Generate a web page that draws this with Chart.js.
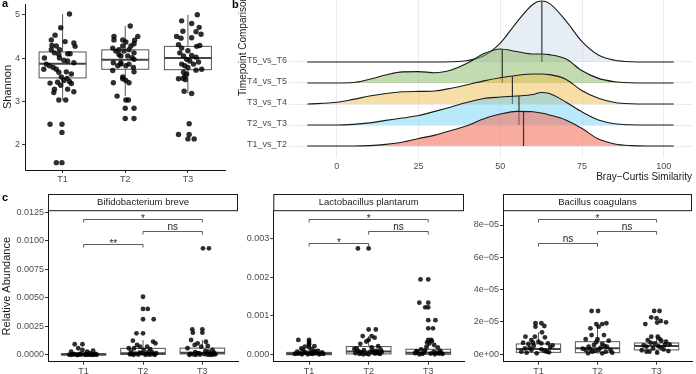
<!DOCTYPE html>
<html>
<head>
<meta charset="utf-8">
<script src="https://cdn.jsdelivr.net/npm/chart.js@4.4.0/dist/chart.umd.min.js"></script>
<style>
  body { margin: 0; width: 696px; height: 374px; overflow: hidden; background: #fff; position: relative;
         font-family: 'Liberation Sans', Arial, sans-serif; }
  .box { position: absolute; }
  .lab { position: absolute; font-weight: bold; font-size: 11px; color: #000; }
</style>
</head>
<body>
<div class="box" style="left:0;top:0"><canvas id="pa" width="232" height="185"></canvas></div>
<div class="box" style="left:232px;top:0"><canvas id="pb" width="464" height="185"></canvas></div>
<div class="box" style="left:0;top:180px"><canvas id="pc1" width="242" height="196"></canvas></div>
<div class="box" style="left:232px;top:180px"><canvas id="pc2" width="236" height="196"></canvas></div>
<div class="box" style="left:462px;top:180px"><canvas id="pc3" width="234" height="196"></canvas></div>
<div class="lab" style="left:2px;top:-3px">a</div>
<div class="lab" style="left:232px;top:-2px">b</div>
<div class="lab" style="left:2px;top:191px">c</div>

<script>
// ---------- dados ----------
const grupos = ['T1', 'T2', 'T3'];

// painel a - Shannon (valores + deslocamento do jitter)
const shannonT1 = [5.02,4.70,4.53,4.42,4.38,4.35,4.27,4.29,4.28,4.19,
  4.19,4.12,4.08,4.10,4.10,4.00,4.00,3.95,3.93,3.89,
  3.86,3.82,3.78,3.74,3.74,3.67,3.68,3.63,3.56,3.53,
  3.48,3.46,3.44,3.42,3.41,3.37,3.28,3.28,3.22,3.20,
  3.03,3.03,2.47,2.47,2.28,1.58,1.58];
const jitA1 = [0.11,-0.03,-0.12,-0.18,0.04,0.18,0.20,-0.17,-0.10,-0.05,
  -0.18,-0.13,-0.06,0.08,0.12,-0.29,-0.05,0.02,0.08,0.18,
  -0.26,-0.21,-0.15,-0.10,-0.30,-0.06,0.06,0.14,-0.02,0.07,
  0.02,0.11,-0.08,-0.20,0.14,-0.03,0.08,-0.13,0.18,-0.14,
  -0.06,0.05,-0.20,-0.01,-0.01,-0.10,-0.01];
const shannonT2 = [4.74,4.50,4.41,4.37,4.28,4.33,4.28,4.19,4.16,4.19,
  4.12,4.05,4.05,4.01,3.97,3.86,3.82,3.86,3.78,3.68,
  3.56,3.48,3.43,3.03,3.03,2.84,2.84,2.60,2.60,
  4.50,4.42,4.23,4.16,4.08,3.89,3.82,3.71,3.52,3.43,3.12,3.89,4.42];
const jitA2 = [0.08,0.20,0.15,0.01,0.09,0.14,-0.04,-0.10,-0.02,0.06,
  0.14,-0.07,0.04,0.11,0.14,-0.07,0.01,0.06,0.13,0.14,
  -0.04,0.01,0.06,0.01,0.05,0.00,0.14,0.00,0.14,
  -0.18,-0.18,-0.20,-0.15,-0.10,-0.19,-0.12,-0.20,-0.04,-0.19,-0.13,-0.07,-0.04];
const shannonT3 = [5.00,4.86,4.80,4.71,4.62,4.61,4.55,4.50,4.46,4.47,
  4.31,4.29,4.27,4.23,4.17,4.12,4.06,4.05,4.02,3.97,
  3.93,3.91,3.86,3.86,3.82,3.78,3.72,3.74,3.67,3.63,
  3.58,3.53,3.52,3.50,3.23,3.18,2.48,2.23,2.23,2.13,2.13];
const jitA3 = [0.15,-0.10,0.06,0.18,-0.08,0.13,0.21,-0.18,-0.11,0.06,
  -0.15,0.19,0.14,-0.10,0.00,-0.13,0.06,-0.07,0.13,-0.02,
  0.03,0.17,-0.10,0.09,-0.05,0.00,0.13,0.22,-0.07,-0.02,
  -0.05,-0.08,-0.15,-0.04,-0.06,0.06,0.02,-0.15,0.02,0.00,0.10];
const aLo = [3.03, 3.12, 3.18];
const aQ1 = [3.54, 3.74, 3.73];
const aMed = [3.87, 3.96, 4.00];
const aQ3 = [4.14, 4.19, 4.27];
const aHi = [5.02, 4.74, 5.00];
const shannonTicks = [2, 3, 4, 5];

// painel b - ridges Bray-Curtis
const comparacoes = ['T1_vs_T2', 'T2_vs_T3', 'T3_vs_T4', 'T4_vs_T5', 'T5_vs_T6'];
const simX = [-9,0,5,10,15,20,25,30,35,40,45,50,55,60,62.5,65,70,75,80,85,90,95,103];
const t1t2H = [0,0,0,0.02,0.08,0.18,0.36,0.52,0.74,0.98,1.30,1.52,1.65,1.63,1.57,1.48,1.24,0.83,0.33,0.10,0.02,0,0];
const t2t3H = [0,0,0.03,0.10,0.22,0.33,0.45,0.65,0.86,1.08,1.26,1.33,1.38,1.45,1.55,1.50,1.10,0.62,0.24,0.06,0.01,0,0];
const t3t4H = [0,0.08,0.22,0.38,0.50,0.58,0.60,0.62,0.75,0.92,1.10,1.25,1.36,1.43,1.43,1.40,1.18,0.63,0.27,0.07,0.01,0,0];
const t4t5H = [0,0,0.02,0.18,0.38,0.53,0.54,0.49,0.62,0.95,1.40,1.62,1.50,1.38,1.38,1.35,1.15,0.58,0.22,0.06,0.01,0,0];
const t5t6H = [0,0,0,0,0,0,0,0,0.01,0.07,0.30,0.90,1.89,2.75,2.90,2.79,1.97,0.97,0.33,0.08,0.01,0,0];
const ridgeMed = [57.1, 55.7, 53.7, 50.6, 62.7];
const simTicks = [0, 25, 50, 75, 100];

// painel c - abundancia relativa
const bifT1 = [0.00094,0.00094,0.00059,0.00044,0.00029,0.00038,0.00029,0.00015,0.00012,0.0001,
  0.00008,0.00006,0.00005,0.00004,0.00003,0.00002,0.00002,0.00001,0.00001,0.00001,
  0.00003,0.00005,0.00007,0.00002,0.00001,0.00009,0.00004,0.00002];
const jitB1 = [-0.15,-0.02,-0.09,-0.02,0.06,0.16,-0.21,0.10,-0.05,0.20,
  -0.15,0.03,0.12,-0.08,0.18,-0.20,0.07,-0.12,0.02,0.14,
  -0.04,0.09,-0.18,0.22,-0.10,0.05,0.16,-0.24];
const bifT2 = [0.0051,0.00403,0.00403,0.00313,0.00313,0.0019,0.0019,0.00125,0.00117,0.00102,
  0.00088,0.00073,0.00073,0.00059,0.00059,0.0005,0.00044,0.0003,0.00025,0.0002,
  0.00016,0.00012,0.0001,0.00008,0.00006,0.00004,0.00003,0.00002,0.00001,0.00001,
  0.00005,0.00015,0.00022,0.00009];
const jitB2 = [0.00,0.00,0.08,0.00,0.18,-0.11,0.00,-0.17,0.17,0.21,
  -0.10,-0.05,0.07,-0.24,-0.15,0.12,0.01,-0.20,0.15,-0.06,
  0.22,-0.13,0.05,0.18,-0.22,0.10,-0.08,0.20,-0.16,0.04,
  0.13,-0.02,0.08,-0.19];
const bifT3 = [0.00934,0.00934,0.00225,0.00225,0.00195,0.00195,0.00131,0.00102,0.00116,0.00079,
  0.00088,0.00073,0.00059,0.00044,0.0003,0.00025,0.0002,0.00016,0.00012,0.0001,
  0.00008,0.00006,0.00005,0.00004,0.00003,0.00002,0.00001,0.00001,0.00014,0.00035,0.00007,0.00002];
const jitB3 = [0.01,0.11,-0.17,0.00,-0.16,0.00,-0.19,-0.08,0.06,0.09,
  -0.13,-0.02,-0.25,0.17,0.10,-0.12,0.20,-0.06,0.14,-0.20,
  0.03,0.22,-0.15,0.08,-0.04,0.16,-0.22,0.12,-0.09,0.05,0.19,-0.11];
const bifLo = [0, 0, 0], bifQ1 = [0, 0.00004, 0.00009], bifMed = [0.00004, 0.00015, 0.0002];
const bifQ3 = [0.00012, 0.00058, 0.0006], bifHi = [0.00029, 0.0013, 0.0013];
const bifTicks = [0, 0.0025, 0.005, 0.0075, 0.01, 0.0125];
const bifBracketY = [0.00976, 0.01087, 0.01195];
const bifBracketLab = ['**', 'ns', '*'];

const plaT1 = [0.00038,0.00038,0.00021,0.00022,0.00016,0.00014,0.00033,0.00028,0.00025,0.00019,
  0.00012,0.0001,0.00008,0.00007,0.00006,0.00005,0.00004,0.00004,0.00003,0.00003,
  0.00002,0.00002,0.00001,0.00001,0.00001,0.00006,0.00009,0.00003,0.00002,0.00005];
const jitP1 = [-0.18,0.00,-0.07,0.09,-0.13,0.05,0.00,0.00,0.00,0.00,
  -0.10,0.15,-0.20,0.08,0.22,-0.05,0.12,-0.16,0.03,0.19,
  -0.24,0.06,-0.12,0.17,-0.02,-0.08,0.11,-0.19,0.24,0.02];
const plaT2 = [0.00274,0.00274,0.00065,0.00065,0.00048,0.00048,0.00038,0.00034,0.00044,0.00028,
  0.00022,0.00016,0.00019,0.00014,0.00012,0.0001,0.00009,0.00008,0.00007,0.00006,
  0.00005,0.00004,0.00004,0.00003,0.00003,0.00002,0.00002,0.00001,0.00001,0.00011,0.00015,0.00006];
const jitP2 = [-0.18,0.00,0.00,0.12,-0.10,0.05,0.00,-0.04,0.10,-0.14,
  0.16,-0.20,0.05,0.20,-0.08,0.13,-0.17,0.03,0.22,-0.12,
  0.08,-0.22,0.16,-0.04,0.11,-0.15,0.19,0.00,-0.09,0.07,-0.24,0.14];
const plaT3 = [0.00194,0.00194,0.00134,0.00134,0.00122,0.00122,0.00089,0.00089,0.00068,0.00068,
  0.00038,0.00038,0.00029,0.00025,0.00019,0.00021,0.00035,0.00032,0.00014,0.0001,
  0.00008,0.00007,0.00006,0.00005,0.00004,0.00003,0.00003,0.00002,0.00002,0.00001,
  0.00001,0.00012,0.00005,0.00009];
const jitP3 = [-0.13,0.00,-0.15,0.00,-0.05,0.00,0.00,0.12,0.00,0.08,
  0.00,0.05,0.02,0.10,0.16,-0.03,0.06,-0.02,-0.12,0.20,
  -0.18,0.09,-0.07,0.14,-0.22,0.04,0.18,-0.10,0.24,-0.15,
  0.11,-0.05,0.21,-0.20];
const plaLo = [0, 0, 0], plaQ1 = [0, 0.00002, 0.00001], plaMed = [0.000026, 0.00008, 0.00005];
const plaQ3 = [0.00006, 0.00021, 0.00014], plaHi = [0.00014, 0.00048, 0.00029];
const plaTicks = [0, 0.001, 0.002, 0.003];
const plaBracketY = [0.00287, 0.00318, 0.0035];
const plaBracketLab = ['*', 'ns', '*'];

const bacT1 = [1.92e-5,1.92e-5,1.71e-5,1.75e-5,1.36e-5,1.09e-5,1.09e-5,0.88e-5,1.05e-5,0.72e-5,
  0.64e-5,0.72e-5,0.78e-5,0.68e-5,0.68e-5,0.37e-5,0.27e-5,0.31e-5,0.16e-5,0.1e-5,
  0.06e-5,0.16e-5,0.45e-5,0.52e-5,0.22e-5,0.4e-5,0.55e-5,0.12e-5];
const jitC1 = [-0.05,0.05,-0.05,0.10,0.06,-0.22,-0.06,-0.12,0.11,-0.26,
  -0.17,-0.09,0.00,0.05,0.16,-0.23,-0.12,0.05,0.14,-0.20,
  -0.03,-0.29,0.20,-0.08,0.10,-0.15,0.24,0.18];
const bacT2 = [2.68e-5,2.68e-5,1.87e-5,1.87e-5,1.92e-5,1.61e-5,1.71e-5,1.19e-5,1.19e-5,0.93e-5,
  0.93e-5,0.84e-5,0.47e-5,0.47e-5,0.58e-5,0.64e-5,0.27e-5,0.27e-5,0.27e-5,0.16e-5,
  0.16e-5,0.06e-5,0.06e-5,0.35e-5,0.4e-5,0.22e-5,0.1e-5,0.52e-5,0.3e-5,0.75e-5];
const jitC2 = [-0.10,0.01,-0.02,0.08,0.15,-0.12,0.02,0.11,-0.10,-0.20,
  0.00,0.19,-0.15,0.16,-0.06,0.08,-0.20,0.02,0.22,-0.09,
  0.14,-0.16,0.08,-0.25,0.05,-0.04,0.25,0.12,-0.12,-0.02];
const bacT3 = [2.68e-5,2.68e-5,2.29e-5,2.23e-5,1.87e-5,2.06e-5,1.98e-5,1.96e-5,1.09e-5,1.09e-5,
  0.88e-5,0.84e-5,0.78e-5,0.68e-5,0.47e-5,0.37e-5,0.43e-5,0.58e-5,0.16e-5,0.1e-5,
  0.16e-5,0.55e-5,0.62e-5,0.3e-5,0.25e-5,0.5e-5,0.72e-5,0.2e-5,0.95e-5];
const jitC3 = [-0.04,0.05,-0.09,0.00,-0.19,0.07,0.16,0.01,-0.09,0.02,
  -0.15,0.08,0.16,-0.03,-0.17,-0.06,0.07,0.14,-0.12,0.01,
  -0.17,-0.22,0.22,0.12,-0.25,0.03,-0.10,0.20,0.05];
const bacLo = [0.05e-5, 0.05e-5, 0.08e-5], bacQ1 = [0.12e-5, 0.1e-5, 0.27e-5], bacMed = [0.33e-5, 0.37e-5, 0.51e-5];
const bacQ3 = [0.64e-5, 0.78e-5, 0.7e-5], bacHi = [1.36e-5, 1.8e-5, 1.1e-5];
const bacTicks = [0, 2e-5, 4e-5, 6e-5, 8e-5];
const bacBracketY = [6.87e-5, 7.6e-5, 8.37e-5];
const bacBracketLab = ['ns', 'ns', '*'];

const bracketPares = [[1, 2], [2, 3], [1, 3]];

// ---------- estilo comum ----------
const FONTE = "'Liberation Sans', Arial, sans-serif";
Chart.defaults.font.family = FONTE;
const cinzaTick = '#4d4d4d';
const pontoCor = 'rgba(0,0,0,0.82)';

function fixaY(w) { return s => { s.width = w; s.paddingTop = 0; s.paddingBottom = 0; }; }
function fixaX(h) { return s => { s.height = h; s.paddingLeft = 0; s.paddingRight = 0; }; }
function poeTicks(vals) { return s => { s.ticks = vals.map(v => ({ value: v })); }; }

function pontos(vals, jit, g) {
  return vals.map((v, i) => ({ x: g + jit[i], y: v }));
}

function eixoGrupos(h) {
  return {
    type: 'linear', min: 0.4, max: 3.6,
    afterBuildTicks: poeTicks([1, 2, 3]),
    afterFit: fixaX(h),
    ticks: { callback: v => grupos[Math.round(v) - 1], color: cinzaTick, font: { size: 9 }, padding: 1, maxRotation: 0 },
    grid: { drawOnChartArea: false, tickLength: 3, color: '#333' },
    border: { color: '#111', width: 1 }
  };
}

// caixa do boxplot desenhada com as escalas do grafico
function boxPlugin(lo, q1, med, q3, hi) {
  return {
    id: 'caixas',
    beforeDatasetsDraw(chart) {
      const { ctx, scales: { x, y } } = chart;
      ctx.save();
      for (let i = 0; i < med.length; i++) {
        const xc = x.getPixelForValue(i + 1);
        const xl = x.getPixelForValue(i + 1 - 0.375);
        const xr = x.getPixelForValue(i + 1 + 0.375);
        const y1 = y.getPixelForValue(q1[i]), y3 = y.getPixelForValue(q3[i]);
        ctx.strokeStyle = '#555';
        ctx.lineWidth = 1;
        ctx.beginPath();
        ctx.moveTo(xc, y.getPixelForValue(hi[i])); ctx.lineTo(xc, y3);
        ctx.moveTo(xc, y1); ctx.lineTo(xc, y.getPixelForValue(lo[i]));
        ctx.stroke();
        ctx.fillStyle = '#fff';
        ctx.fillRect(xl, y3, xr - xl, y1 - y3);
        ctx.strokeRect(xl, y3, xr - xl, y1 - y3);
        ctx.lineWidth = 2;
        ctx.strokeStyle = '#444';
        const ym = y.getPixelForValue(med[i]);
        ctx.beginPath(); ctx.moveTo(xl, ym); ctx.lineTo(xr, ym); ctx.stroke();
      }
      ctx.restore();
    }
  };
}

// faixa com o nome da especie + colchetes de significancia
function facetaPlugin(titulo, bY, bLab) {
  return {
    id: 'faceta',
    afterDatasetsDraw(chart) {
      const { ctx, chartArea: a, scales: { x, y } } = chart;
      ctx.save();
      ctx.fillStyle = '#fff';
      ctx.fillRect(a.left, 14, a.right - a.left, a.top - 14);
      ctx.strokeStyle = '#1a1a1a';
      ctx.lineWidth = 1;
      ctx.strokeRect(a.left + 0.5, 14.5, a.right - a.left - 1, a.top - 14.5);
      ctx.fillStyle = '#1a1a1a';
      ctx.font = '9.5px ' + FONTE;
      ctx.textAlign = 'center';
      ctx.textBaseline = 'middle';
      ctx.fillText(titulo, (a.left + a.right) / 2, (14 + a.top) / 2 + 0.5);

      ctx.strokeStyle = '#333';
      ctx.lineWidth = 0.8;
      ctx.font = '10px ' + FONTE;
      ctx.textBaseline = 'alphabetic';
      bracketPares.forEach((p, i) => {
        const x1 = x.getPixelForValue(p[0]), x2 = x.getPixelForValue(p[1]);
        const yy = Math.round(y.getPixelForValue(bY[i])) + 0.5;
        ctx.beginPath();
        ctx.moveTo(x1, yy + 3); ctx.lineTo(x1, yy); ctx.lineTo(x2, yy); ctx.lineTo(x2, yy + 3);
        ctx.stroke();
        // asterisco fica alto na fonte, entao desce um pouco a linha base
        ctx.fillText(bLab[i], (x1 + x2) / 2, bLab[i].indexOf('*') >= 0 ? yy + 2 : yy - 2);
      });
      ctx.restore();
    }
  };
}

function datasetsGrupos(v1, j1, v2, j2, v3, j3, raio) {
  return [pontos(v1, j1, 1), pontos(v2, j2, 2), pontos(v3, j3, 3)].map(d => ({
    data: d, pointRadius: raio, pointBackgroundColor: pontoCor, pointBorderWidth: 0
  }));
}

// ---------- painel a ----------
new Chart(document.getElementById('pa'), {
  type: 'scatter',
  data: { datasets: datasetsGrupos(shannonT1, jitA1, shannonT2, jitA2, shannonT3, jitA3, 2.7) },
  options: {
    responsive: false, animation: false,
    layout: { padding: { left: 0, top: 0, right: 6.5, bottom: 0 } },
    plugins: { legend: { display: false }, tooltip: { enabled: false } },
    scales: {
      x: eixoGrupos(15),
      y: {
        type: 'linear', min: 1.41, max: 5.25,
        afterBuildTicks: poeTicks(shannonTicks), afterFit: fixaY(25),
        ticks: { color: cinzaTick, font: { size: 9 }, padding: 2 },
        grid: { drawOnChartArea: false, tickLength: 3, color: '#333' },
        border: { color: '#111', width: 1 },
        title: { display: true, text: 'Shannon', color: '#1a1a1a', font: { size: 11 }, padding: { top: 1, bottom: 0 } }
      }
    }
  },
  plugins: [boxPlugin(aLo, aQ1, aMed, aQ3, aHi)]
});

// ---------- painel b ----------
const ridgeH = [t1t2H, t2t3H, t3t4H, t4t5H, t5t6H];
const ridgeCores = ['rgba(244,110,90,0.58)', 'rgba(110,210,245,0.48)', 'rgba(240,190,80,0.5)',
  'rgba(130,180,90,0.48)', 'rgba(196,210,228,0.4)'];

const linhasMediana = {
  id: 'medianas',
  afterDatasetDraw(chart, args) {
    const k = args.index;
    const h = ridgeH[k], m = ridgeMed[k];
    let j = simX.findIndex(v => v >= m);
    const t = (m - simX[j - 1]) / (simX[j] - simX[j - 1]);
    const hv = h[j - 1] + t * (h[j] - h[j - 1]);
    const { ctx, scales: { x, y } } = chart;
    ctx.save();
    ctx.strokeStyle = '#333';
    ctx.lineWidth = 1.2;
    ctx.beginPath();
    ctx.moveTo(x.getPixelForValue(m), y.getPixelForValue(k + 1));
    ctx.lineTo(x.getPixelForValue(m), y.getPixelForValue(k + 1 + hv));
    ctx.stroke();
    ctx.restore();
  }
};

const tituloRidge = {
  id: 'tituloRidge',
  afterDraw(chart) {
    const ctx = chart.ctx;
    ctx.save();
    ctx.translate(11, 46);
    ctx.rotate(-Math.PI / 2);
    ctx.fillStyle = '#1a1a1a';
    ctx.font = '10px ' + FONTE;
    ctx.textAlign = 'center';
    ctx.textBaseline = 'middle';
    ctx.fillText('Timepoint Comparison', 0, 0);
    ctx.restore();
  }
};

new Chart(document.getElementById('pb'), {
  type: 'line',
  data: {
    datasets: ridgeH.map((h, k) => ({
      label: comparacoes[k],
      data: simX.map((v, i) => ({ x: v, y: k + 1 + h[i] })),
      borderColor: '#1a1a1a', borderWidth: 1.1, pointRadius: 0,
      backgroundColor: ridgeCores[k], fill: { value: k + 1 },
      cubicInterpolationMode: 'monotone'
    }))
  },
  options: {
    responsive: false, animation: false,
    layout: { padding: { left: 0, top: 0, right: 4, bottom: 0 } },
    plugins: { legend: { display: false }, tooltip: { enabled: false } },
    scales: {
      x: {
        type: 'linear', min: -14.6, max: 108.6,
        afterBuildTicks: poeTicks(simTicks), afterFit: fixaX(27),
        ticks: { color: cinzaTick, font: { size: 9 }, padding: 3 },
        grid: { color: '#ebebeb', drawTicks: false },
        border: { display: false },
        title: { display: true, text: 'Bray\u2212Curtis Similarity', align: 'end', color: '#1a1a1a', font: { size: 10 }, padding: { top: 0, bottom: 2 } }
      },
      y: {
        type: 'linear', min: 0.43, max: 7.95,
        afterBuildTicks: poeTicks([1, 2, 3, 4, 5]), afterFit: fixaY(57),
        ticks: { callback: v => comparacoes[Math.round(v) - 1], color: cinzaTick, font: { size: 9 }, padding: 2, labelOffset: -1.5 },
        grid: { color: '#ebebeb', drawTicks: false },
        border: { display: false }
      }
    }
  },
  plugins: [linhasMediana, tituloRidge]
});

// ---------- painel c ----------
function graficoFaceta(id, titulo, series, caixa, yMin, yMax, ticks, fmt, largY, padDir, bY, bLab, tituloY) {
  new Chart(document.getElementById(id), {
    type: 'scatter',
    data: { datasets: datasetsGrupos(...series, 2.4) },
    options: {
      responsive: false, animation: false,
      layout: { padding: { left: 0, top: 30.7, right: padDir, bottom: 0 } },
      plugins: { legend: { display: false }, tooltip: { enabled: false } },
      scales: {
        x: eixoGrupos(14.3),
        y: {
          type: 'linear', min: yMin, max: yMax,
          afterBuildTicks: poeTicks(ticks), afterFit: fixaY(largY),
          ticks: { callback: fmt, color: cinzaTick, font: { size: 9 }, padding: 1 },
          grid: { drawOnChartArea: false, tickLength: 3, color: '#333' },
          border: { color: '#111', width: 1 },
          title: { display: !!tituloY, text: tituloY || '', color: '#1a1a1a', font: { size: 11 }, padding: { top: 0.5, bottom: 0 } }
        }
      }
    },
    plugins: [boxPlugin(...caixa), facetaPlugin(titulo, bY, bLab)]
  });
}

graficoFaceta('pc1', 'Bifidobacterium breve',
  [bifT1, jitB1, bifT2, jitB2, bifT3, jitB3], [bifLo, bifQ1, bifMed, bifQ3, bifHi],
  -0.00059, 0.01264, bifTicks, v => v.toFixed(4), 48, 2, bifBracketY, bifBracketLab, 'Relative Abundance');

graficoFaceta('pc2', 'Lactobacillus plantarum',
  [plaT1, jitP1, plaT2, jitP2, plaT3, jitP3], [plaLo, plaQ1, plaMed, plaQ3, plaHi],
  -0.00018, 0.003711, plaTicks, v => v.toFixed(3), 41.3, 1.7, plaBracketY, plaBracketLab, null);

graficoFaceta('pc3', 'Bacillus coagulans',
  [bacT1, jitC1, bacT2, jitC2, bacT3, jitC3], [bacLo, bacQ1, bacMed, bacQ3, bacHi],
  -0.458e-5, 8.885e-5, bacTicks, v => (v === 0 ? '0e+00' : Math.round(v * 1e5) + 'e\u221205'), 41, 3, bacBracketY, bacBracketLab, null);
</script>
</body>
</html>
